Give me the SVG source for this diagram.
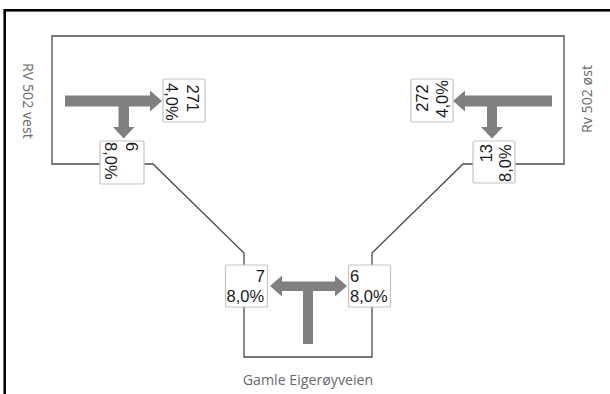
<svg xmlns="http://www.w3.org/2000/svg" width="610" height="394" viewBox="0 0 610 394">
<style>
.box{fill:#fff;stroke:#c4c4c4;stroke-width:1.2}
.num{font-family:"Liberation Sans",Arial,sans-serif;font-size:16.5px;fill:#1a1a1a}
.lbl{font-family:"Open Sans","Liberation Sans",sans-serif;font-size:14.2px;fill:#6a6a6a}
.ln{fill:none;stroke:#4a4a4a;stroke-width:1.3}
.arr{fill:#808080}
</style>
<rect width="610" height="394" fill="#fff"/>
<rect x="4.7" y="10.3" width="700" height="500" fill="none" stroke="#000" stroke-width="2.6"/>
<g id="connectors">
<path class="ln" d="M100,164 H52 V36 H564 V164 H515"/>
<path class="ln" d="M144,164 H153 L244,253 V265"/>
<path class="ln" d="M473,164 H463 L372,253 V265"/>
<path class="ln" d="M244,307 V357 H372 V307"/>
</g>
<g id="arrows">
<path class="arr" d="M65,95.5 H150 V90.5 L162,101 L150,111.5 V106.5 H129 V127 H134.5 L123.75,138.5 L113,127 H118.5 V106.5 H65 Z"/>
<path class="arr" d="M552,95.5 H465 V90.5 L453,101 L465,111.5 V106.5 H497 V127 H503 L492,138.5 L481,127 H487 V106.5 H552 Z"/>
<path class="arr" d="M282,281.5 V275.5 L270,286 L282,296.5 V291 H303 V344 H313 V291 H335 V296.5 L347,286 L335,275.5 V281.5 Z"/>
</g>
<g id="node-271">
<rect class="box" x="163" y="79" width="42" height="43" rx="2"/>
<text class="num" transform="translate(187,84.5) rotate(90)">271</text>
<text class="num" transform="translate(166,83) rotate(90)">4,0%</text>
</g>
<g id="node-6-west">
<rect class="box" x="100" y="141" width="44" height="43" rx="2"/>
<text class="num" transform="translate(126,142) rotate(90)">6</text>
<text class="num" transform="translate(105,142) rotate(90)">8,0%</text>
</g>
<g id="node-272">
<rect class="box" x="411" y="79" width="42" height="43" rx="2"/>
<text class="num" text-anchor="middle" transform="translate(428,98) rotate(-90)">272</text>
<text class="num" text-anchor="middle" transform="translate(447.5,99) rotate(-90)">4,0%</text>
</g>
<g id="node-13">
<rect class="box" x="473" y="141" width="42" height="42" rx="2"/>
<text class="num" text-anchor="end" transform="translate(492,144) rotate(-90)">13</text>
<text class="num" transform="translate(510.5,182) rotate(-90)">8,0%</text>
</g>
<g id="node-7">
<rect class="box" x="225.5" y="265" width="42" height="42" rx="2"/>
<text class="num" x="265" y="282" text-anchor="end">7</text>
<text class="num" x="226.5" y="302">8,0%</text>
</g>
<g id="node-6-south">
<rect class="box" x="348.5" y="265" width="42" height="42" rx="2"/>
<text class="num" x="350" y="282">6</text>
<text class="num" x="350" y="302">8,0%</text>
</g>
<g id="labels">
<text class="lbl" text-anchor="middle" transform="translate(22.5,101) rotate(90)">RV 502 vest</text>
<text class="lbl" text-anchor="middle" transform="translate(592,99) rotate(-90)">Rv 502 øst</text>
<text class="lbl" x="308" y="385" text-anchor="middle">Gamle Eigerøyveien</text>
</g>
</svg>
